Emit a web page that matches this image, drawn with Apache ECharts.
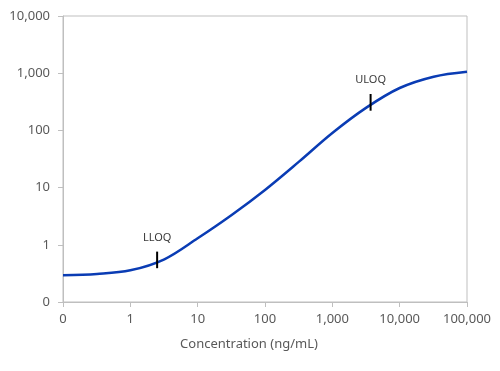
<!DOCTYPE html>
<html>
<head>
<meta charset="utf-8">
<script src="https://cdn.jsdelivr.net/npm/echarts@6/dist/echarts.min.js"></script>
<style>html,body{margin:0;padding:0;background:#fff}#c{width:500px;height:371px}</style>
</head>
<body>
<div id="c"></div>
<script>
// Concentration (ng/mL) and Signal (RFU) (half-decade steps)
const concentration = [0.1, 0.32, 1, 3.2, 10, 32, 100, 320, 1000, 3200, 10000, 32000, 100000];
const signal =        [0.293, 0.309, 0.358, 0.558, 1.30, 3.32, 9.1, 28.4, 90, 250, 551, 869, 1062];
const lloqX = 2.5, lloqLow = 0.39, lloqHigh = 0.76;
const uloqX = 3700, uloqLow = 221, uloqHigh = 433;
const markerNames = ['LLOQ', 'ULOQ'];
const xTickLabels = ['0', '1', '10', '100', '1,000', '10,000', '100,000'];
const yTickLabels = ['0', '1', '10', '100', '1,000', '10,000'];

const fmt = (v, labels) => {
  const i = Math.round(Math.log10(v)) + 1;
  return labels[i] !== undefined ? labels[i] : '';
};
const FONT = 'Noto Sans';
const chart = echarts.init(document.getElementById('c'), null, {renderer: 'canvas'});
chart.setOption({
  animation: false,
  grid: {left: 63, right: 33, top: 16, bottom: 69, containLabel: false, outerBoundsMode: 'none',
         show: true, borderColor: '#bfbfbf', borderWidth: 1},
  xAxis: {
    type: 'log', logBase: 10, min: 0.1, max: 100000,
    name: 'Concentration (ng/mL)', nameLocation: 'middle', nameGap: 36,
    nameTextStyle: {color: '#595959', fontFamily: FONT, fontSize: 13, padding: [0, 32, 0, 0]},
    axisLine: {lineStyle: {color: '#bfbfbf'}},
    axisTick: {show: true, length: 5, lineStyle: {color: '#bfbfbf'}},
    minorTick: {show: false},
    splitLine: {show: false},
    axisLabel: {color: '#595959', fontFamily: FONT, fontSize: 13, margin: 11, formatter: v => fmt(v, xTickLabels)}
  },
  yAxis: {
    type: 'log', logBase: 10, min: 0.1, max: 10000,
    name: 'Signal (RFU)', nameLocation: 'middle', nameGap: 42,
    nameTextStyle: {color: '#595959', fontFamily: FONT, fontSize: 13, padding: [0, 0, 0, 12]},
    axisLine: {show: true, lineStyle: {color: '#bfbfbf'}},
    axisTick: {show: true, length: 5, lineStyle: {color: '#bfbfbf'}},
    splitLine: {show: false},
    axisLabel: {color: '#595959', fontFamily: FONT, fontSize: 13, margin: 13, formatter: v => fmt(v, yTickLabels)}
  },
  series: [
    {
      type: 'line', smooth: 0.35, symbol: 'none',
      data: concentration.map((c, i) => [c, signal[i]]),
      lineStyle: {color: '#0a3cb4', width: 2.5}
    },
    {
      type: 'line', symbol: 'none',
      data: [[lloqX, lloqLow], [lloqX, lloqHigh]],
      lineStyle: {color: '#000', width: 2}
    },
    {
      type: 'line', symbol: 'none',
      data: [[uloqX, uloqLow], [uloqX, uloqHigh]],
      lineStyle: {color: '#000', width: 2}
    },
    {
      type: 'scatter', symbol: 'circle', symbolSize: 1,
      itemStyle: {color: 'rgba(0,0,0,0)'},
      data: [[lloqX, lloqHigh], [uloqX, uloqHigh]],
      label: {show: true, position: 'top', distance: 8, color: '#000', fontFamily: FONT, fontSize: 11,
              formatter: p => markerNames[p.dataIndex]}
    }
  ]
});
</script>
</body>
</html>
